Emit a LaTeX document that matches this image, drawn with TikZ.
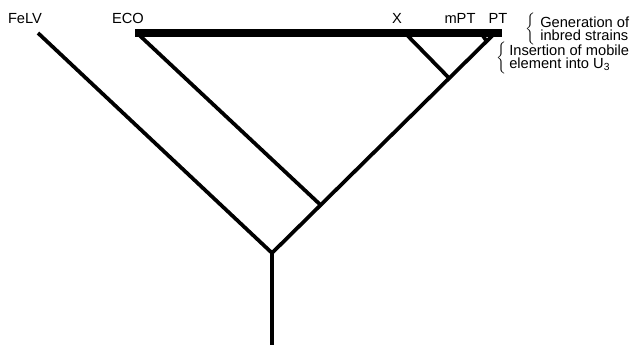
\documentclass[tikz,border=0pt]{standalone}
\usepackage{fontspec}
\setmainfont{Liberation Sans}
\usetikzlibrary{positioning}
\tikzset{
  branch/.style={line width=2.8pt},
  strainbar/.style={line width=6pt},
  lbl/.style={font=\fontsize{11}{9.8}\selectfont, inner sep=0pt, anchor=base},
  note/.style={font=\fontsize{11}{9.8}\selectfont, inner sep=0pt, align=left, anchor=west},
  bracket/.style={font=\fontsize{11}{9.8}\selectfont, inner sep=0pt, anchor=east},
}

\begin{document}
\begin{tikzpicture}[x=0.75pt, y=-0.75pt]
  \useasboundingbox (0,0) rectangle (632,347);
  % tree points
  \coordinate (root) at (272,345);
  \coordinate (J0) at (272,253);
  \coordinate (J1) at (320.6,205);
  \coordinate (J2) at (449,78);
  \coordinate (J3) at (486.5,41);
  % leaves on the bar
  \coordinate (felv) at (38,33);
  \coordinate (eco) at (137,33);
  \coordinate (xleaf) at (405,33);
  \coordinate (mpt) at (481,33);
  \coordinate (pt) at (495,33);
  \coordinate (barL) at (135,33);
  \coordinate (barR) at (502,33);
  %
  \draw[branch] (felv) -- (J0) -- (pt);
  \draw[branch] (J0) -- (root);
  \draw[branch] (J1) -- (eco);
  \draw[branch] (J2) -- (xleaf);
  \draw[branch] (J3) -- (mpt);
  % inbred strains
  \draw[strainbar] (barL) -- (barR);
  %
  \node[lbl] (felvlab) at (25,23) {FeLV};
  \node[lbl] (ecolab) at (128,23) {ECO};
  \node[lbl] (xlab) at (397,23) {X};
  \node[lbl] (mptlab) at (460,23) {mPT};
  \node[lbl] (ptlab) at (498,23) {PT};
  % notes
  \node[note] (gen) at (540,29) {Generation of\\inbred strains};
  \node[bracket, left=3pt of gen] (genbrace) {$\bigg\{$};
  \node[note] (ins) at (509,58) {Insertion of mobile\\element into U\textsubscript{3}};
  \node[bracket, left=2pt of ins] (insbrace) {$\bigg\{$};
\end{tikzpicture}
\end{document}
